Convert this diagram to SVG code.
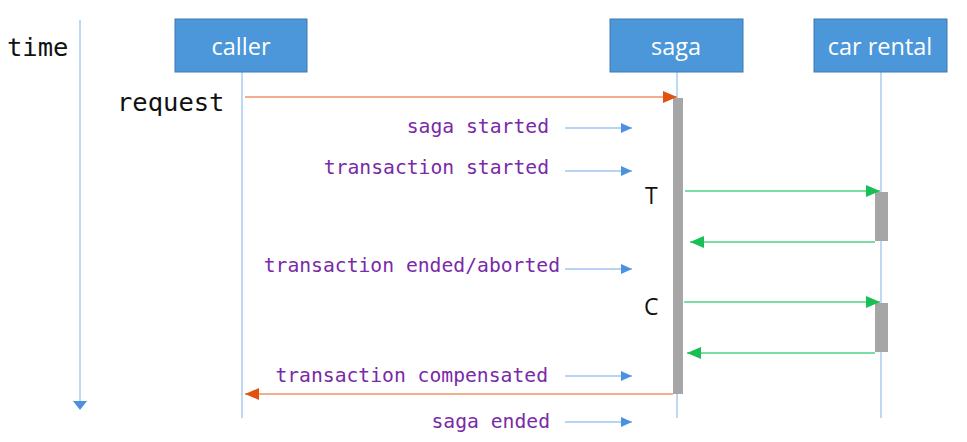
<svg xmlns="http://www.w3.org/2000/svg" width="967" height="442" viewBox="0 0 967 442">
<style>
.box{fill:#4b97d9;stroke:#3f78b0;stroke-width:1}
.boxt{font-family:"Open Sans","Noto Sans",sans-serif;font-size:23.5px;fill:#ffffff;text-anchor:middle}
.life{stroke:#a9cdef;stroke-width:1.5;fill:none}
.act{fill:#a6a6a6}
.mono{font-family:"DejaVu Sans Mono","Liberation Mono",monospace}
.big{font-size:25.5px;fill:#111111}
.ev{font-size:19.7px;fill:#7a2aa8;text-anchor:end}
.tc{font-family:"Open Sans","Noto Sans",sans-serif;font-size:23px;fill:#111111}
.blue{stroke:#9fc6ee;stroke-width:1.5;fill:none}
.orange{stroke:#f2ad8a;stroke-width:1.8;fill:none}
.green{stroke:#7adea4;stroke-width:1.8;fill:none}
</style>
<defs>
<marker id="hb" markerUnits="userSpaceOnUse" markerWidth="12" markerHeight="10" refX="11" refY="5" orient="auto"><path d="M0,0 L11,5 L0,10 Z" fill="#4a91df"/></marker>
<marker id="ho" markerUnits="userSpaceOnUse" markerWidth="15" markerHeight="12" refX="14" refY="6" orient="auto"><path d="M0,0 L14,6 L0,12 Z" fill="#e2520f"/></marker>
<marker id="hg" markerUnits="userSpaceOnUse" markerWidth="15" markerHeight="12" refX="14" refY="6" orient="auto"><path d="M0,0 L14,6 L0,12 Z" fill="#18bf55"/></marker>
</defs>

<g id="time">
<text class="mono big" x="7" y="56">time</text>
<line x1="80" y1="20" x2="80" y2="402" class="life"/>
<path d="M73,401 L87,401 L80,410 Z" fill="#4a91df"/>
</g>

<g id="caller">
<line x1="242" y1="72" x2="242" y2="418" class="life"/>
<rect class="box" x="175" y="19" width="132" height="53"/>
<text class="boxt" x="241" y="55">caller</text>
</g>

<g id="saga">
<line x1="677" y1="72" x2="677" y2="418" class="life"/>
<rect class="box" x="610" y="19" width="133" height="53"/>
<text class="boxt" x="676" y="55">saga</text>
<rect class="act" x="673" y="98" width="10" height="296"/>
</g>

<g id="car-rental">
<line x1="881" y1="72" x2="881" y2="418" class="life"/>
<rect class="box" x="814" y="19" width="133" height="53"/>
<text class="boxt" x="880" y="55">car rental</text>
<rect class="act" x="875" y="192" width="13" height="49"/>
<rect class="act" x="875" y="303" width="13" height="49"/>
</g>

<g id="labels">
<text class="mono big" x="117" y="111">request</text>
<text class="mono ev" x="549" y="133">saga started</text>
<text class="mono ev" x="549" y="174">transaction started</text>
<text class="mono ev" x="560" y="272">transaction ended/aborted</text>
<text class="mono ev" x="548" y="382">transaction compensated</text>
<text class="mono ev" x="550" y="428">saga ended</text>
<text class="tc" x="645" y="204">T</text>
<text class="tc" x="644" y="315">C</text>
</g>

<g id="connectors">
<line class="orange" x1="245" y1="97" x2="677" y2="97" marker-end="url(#ho)"/>
<line class="orange" x1="673" y1="394" x2="245" y2="394" marker-end="url(#ho)"/>
<line class="blue" x1="565" y1="128" x2="632" y2="128" marker-end="url(#hb)"/>
<line class="blue" x1="565" y1="171" x2="632" y2="171" marker-end="url(#hb)"/>
<line class="blue" x1="565" y1="269" x2="632" y2="269" marker-end="url(#hb)"/>
<line class="blue" x1="565" y1="376" x2="632" y2="376" marker-end="url(#hb)"/>
<line class="blue" x1="565" y1="422" x2="632" y2="422" marker-end="url(#hb)"/>
<line class="green" x1="685" y1="191" x2="880" y2="191" marker-end="url(#hg)"/>
<line class="green" x1="875" y1="242" x2="690" y2="242" marker-end="url(#hg)"/>
<line class="green" x1="684" y1="302" x2="880" y2="302" marker-end="url(#hg)"/>
<line class="green" x1="875" y1="353" x2="687" y2="353" marker-end="url(#hg)"/>
</g>
</svg>
